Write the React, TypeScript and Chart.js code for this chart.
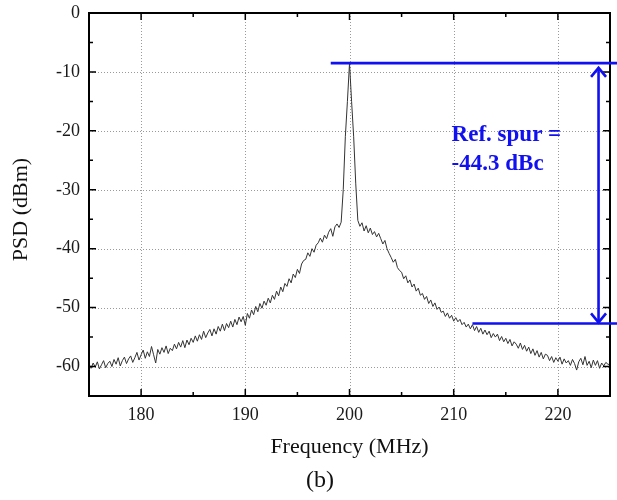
import React, { useEffect, useRef } from "react";
import { Chart, registerables } from "chart.js";

Chart.register(...registerables);

// ---- data ----
const F_START = 175; // MHz, first sample
const F_STEP = 0.2; // MHz between samples
// PSD (dBm), one value per 0.2 MHz from 175 to 225 MHz (rows of 2 MHz)
const PSD = [
  -59.6, -60.3, -59.4, -60.1, -59.2, -60.4, -59.7, -59.0, -60.2, -59.5,
  -59.1, -60.0, -58.8, -59.6, -58.5, -59.9, -59.0, -58.4, -59.5, -58.7,
  -58.2, -59.3, -58.5, -57.6, -58.9, -58.0, -57.2, -58.6, -57.5, -58.3,
  -56.6, -58.0, -59.4, -57.1, -57.9, -56.8, -57.6, -56.5, -57.8, -56.9,
  -57.3, -56.2, -57.0, -55.9, -56.7, -55.6, -56.8, -55.5, -56.3, -55.2,
  -55.9, -54.8, -55.7, -54.6, -55.4, -54.0, -55.1, -54.3, -53.7, -54.8,
  -53.6, -54.5, -53.2, -54.0, -52.8, -53.9, -52.7, -53.4, -52.3, -53.3,
  -52.0, -52.9, -51.6, -52.4, -51.5, -53.0, -51.0, -51.8, -50.4, -51.2,
  -49.8, -50.7, -49.3, -50.1, -48.9, -49.6, -48.4, -49.2, -47.9, -48.6,
  -47.2, -48.0, -46.5, -47.3, -45.9, -46.4, -45.1, -45.8, -44.3, -44.9,
  -43.5, -44.2, -42.6, -42.0, -41.8, -40.7, -41.3, -40.0, -40.6, -39.4,
  -39.0, -38.2, -38.9, -37.7, -38.3, -37.2, -36.6, -37.9, -36.3, -35.8,
  -36.4, -35.5, -30.0, -21.0, -15.0, -8.5, -15.0, -21.0, -29.0, -35.2,
  -36.2, -35.6, -37.0, -36.1, -37.3, -36.5, -37.6, -37.1, -38.0, -37.4,
  -38.3, -39.2, -38.6, -40.0, -40.8, -41.5, -42.3, -41.8, -43.2, -43.7,
  -44.0, -45.1, -44.6, -45.8, -45.3, -46.5, -46.0, -47.2, -46.7, -47.9,
  -47.6, -48.6, -48.1, -49.3, -48.7, -49.8, -49.2, -50.3, -49.9, -50.8,
  -50.6, -51.5, -50.9, -51.8, -51.3, -52.3, -51.7, -52.4, -52.0, -52.9,
  -52.5, -53.3, -52.8, -53.6, -52.9, -53.9, -53.2, -54.2, -53.5, -54.5,
  -53.8, -54.6, -54.0, -55.1, -54.4, -55.0, -54.5, -55.6, -54.9, -55.8,
  -55.2, -56.1, -55.4, -56.5, -55.8, -56.2, -56.9, -56.0, -57.1, -56.4,
  -57.4, -56.7, -57.8, -57.0, -58.1, -57.3, -58.4, -57.6, -58.7, -57.9,
  -58.1, -59.0, -58.3, -59.3, -58.5, -59.1, -58.4, -59.6, -58.7, -59.4,
  -59.0, -59.8, -58.8, -59.5, -60.6, -59.2, -58.6, -59.7, -58.3, -59.8,
  -59.1, -60.2, -58.9, -59.8, -59.0, -60.3, -59.4, -59.9, -59.3, -59.6,
  -59.7,
];

const X_MIN = 175;
const X_MAX = 225;
const Y_MIN = -65;
const Y_MAX = 0;
const X_TICKS = [180, 190, 200, 210, 220];
const X_MINOR = [185, 195, 205, 215];
const Y_TICKS = [0, -10, -20, -30, -40, -50, -60];
const Y_MINOR = [-5, -15, -25, -35, -45, -55];

const X_TITLE = "Frequency (MHz)";
const Y_TITLE = "PSD (dBm)";
const CAPTION = "(b)";

// annotation (data coordinates)
const PEAK_LEVEL = -8.5;
const SPUR_LEVEL = -52.7;
const PEAK_LINE_START = 198.2;
const SPUR_LINE_START = 211.8;
const ARROW_FREQ = 223.9;
const ARROW_TOP = -9.3;
const ARROW_BOTTOM = -52.5;
const NOTE_FREQ = 209.8;
const NOTE_LINES = ["Ref. spur =", "-44.3 dBc"];
const NOTE_LEVELS = [-21.8, -26.6];

const SERIF = '"Liberation Serif", "Times New Roman", Times, serif';
const BLUE = "#1010f0";

export default function App() {
  const ref = useRef<HTMLCanvasElement | null>(null);

  useEffect(() => {
    document.body.style.margin = "0";
    const canvas = ref.current;
    if (!canvas) return;

    const points = PSD.map((v, i) => ({ x: +(F_START + i * F_STEP).toFixed(2), y: v }));

    const decor = {
      id: "decor",
      beforeDatasetsDraw(chart: any) {
        const { ctx, chartArea: a, scales } = chart;
        const xs = scales.x;
        const ys = scales.y;
        ctx.save();
        ctx.strokeStyle = "#9a9a9a";
        ctx.lineWidth = 1;
        ctx.setLineDash([1, 2]);
        X_TICKS.forEach((v) => {
          const px = Math.round(xs.getPixelForValue(v)) + 0.5;
          ctx.beginPath();
          ctx.moveTo(px, a.top);
          ctx.lineTo(px, a.bottom);
          ctx.stroke();
        });
        Y_TICKS.forEach((v) => {
          if (v === Y_MAX) return;
          const py = Math.round(ys.getPixelForValue(v)) + 0.5;
          ctx.beginPath();
          ctx.moveTo(a.left, py);
          ctx.lineTo(a.right, py);
          ctx.stroke();
        });
        ctx.restore();
      },
      afterDatasetsDraw(chart: any) {
        const { ctx, chartArea: a, scales, width } = chart;
        const xs = scales.x;
        const ys = scales.y;
        ctx.save();
        // frame
        ctx.strokeStyle = "#000";
        ctx.lineWidth = 2;
        ctx.strokeRect(a.left, a.top, a.right - a.left, a.bottom - a.top);
        // inward ticks, all four sides
        ctx.lineWidth = 1.5;
        const xt = (v: number, len: number) => {
          const px = xs.getPixelForValue(v);
          ctx.beginPath();
          ctx.moveTo(px, a.bottom);
          ctx.lineTo(px, a.bottom - len);
          ctx.moveTo(px, a.top);
          ctx.lineTo(px, a.top + len);
          ctx.stroke();
        };
        const yt = (v: number, len: number) => {
          const py = ys.getPixelForValue(v);
          ctx.beginPath();
          ctx.moveTo(a.left, py);
          ctx.lineTo(a.left + len, py);
          ctx.moveTo(a.right, py);
          ctx.lineTo(a.right - len, py);
          ctx.stroke();
        };
        X_TICKS.forEach((v) => xt(v, 7));
        X_MINOR.forEach((v) => xt(v, 4));
        Y_TICKS.forEach((v) => yt(v, 7));
        Y_MINOR.forEach((v) => yt(v, 4));

        // blue annotation
        ctx.strokeStyle = BLUE;
        ctx.fillStyle = BLUE;
        ctx.lineWidth = 2.6;
        const yPeak = ys.getPixelForValue(PEAK_LEVEL);
        const ySpur = ys.getPixelForValue(SPUR_LEVEL);
        ctx.beginPath();
        ctx.moveTo(xs.getPixelForValue(PEAK_LINE_START), yPeak);
        ctx.lineTo(width, yPeak);
        ctx.moveTo(xs.getPixelForValue(SPUR_LINE_START), ySpur);
        ctx.lineTo(width, ySpur);
        ctx.stroke();
        const ax = xs.getPixelForValue(ARROW_FREQ);
        const aTop = ys.getPixelForValue(ARROW_TOP);
        const aBot = ys.getPixelForValue(ARROW_BOTTOM);
        ctx.beginPath();
        ctx.moveTo(ax, aTop);
        ctx.lineTo(ax, aBot);
        ctx.stroke();
        ctx.beginPath();
        ctx.moveTo(ax - 7.5, aTop + 9);
        ctx.lineTo(ax, aTop);
        ctx.lineTo(ax + 7.5, aTop + 9);
        ctx.moveTo(ax - 7.5, aBot - 9);
        ctx.lineTo(ax, aBot);
        ctx.lineTo(ax + 7.5, aBot - 9);
        ctx.stroke();
        ctx.font = `bold 23px ${SERIF}`;
        ctx.textAlign = "left";
        ctx.textBaseline = "alphabetic";
        NOTE_LINES.forEach((t, i) => {
          ctx.fillText(t, xs.getPixelForValue(NOTE_FREQ), ys.getPixelForValue(NOTE_LEVELS[i]));
        });

        // titles
        ctx.fillStyle = "#111";
        ctx.textAlign = "center";
        ctx.textBaseline = "middle";
        ctx.font = `22px ${SERIF}`;
        ctx.fillText(X_TITLE, (a.left + a.right) / 2, a.bottom + 51);
        ctx.font = `24px ${SERIF}`;
        ctx.fillText(CAPTION, 320, a.bottom + 85);
        ctx.font = `22px ${SERIF}`;
        ctx.translate(21, (a.top + a.bottom) / 2 + 5);
        ctx.rotate(-Math.PI / 2);
        ctx.fillText(Y_TITLE, 0, 0);
        ctx.restore();
      },
    };

    const noPad = (s: any) => {
      s.paddingTop = 0;
      s.paddingBottom = 0;
      s.paddingLeft = 0;
      s.paddingRight = 0;
    };

    const chart = new Chart(canvas, {
      type: "line",
      data: {
        datasets: [
          {
            data: points,
            borderColor: "#333333",
            borderWidth: 1,
            pointRadius: 0,
            tension: 0,
            fill: false,
          },
        ],
      },
      options: {
        responsive: false,
        animation: false,
        layout: { padding: { top: 13, right: 7, left: 0, bottom: 0 } },
        plugins: { legend: { display: false }, tooltip: { enabled: false } },
        scales: {
          x: {
            type: "linear",
            min: X_MIN,
            max: X_MAX,
            afterBuildTicks: (s: any) => {
              s.ticks = X_TICKS.map((v) => ({ value: v }));
            },
            afterFit: (s: any) => {
              s.height = 104;
              noPad(s);
            },
            grid: { display: false, drawTicks: false },
            border: { display: false },
            ticks: {
              padding: 8,
              color: "#1a1a1a",
              font: { family: SERIF, size: 18 },
              callback: (v: any) => String(v),
            },
          },
          y: {
            type: "linear",
            min: Y_MIN,
            max: Y_MAX,
            afterBuildTicks: (s: any) => {
              s.ticks = Y_TICKS.map((v) => ({ value: v }));
            },
            afterFit: (s: any) => {
              s.width = 89;
              noPad(s);
            },
            grid: { display: false, drawTicks: false },
            border: { display: false },
            ticks: {
              padding: 9,
              color: "#1a1a1a",
              font: { family: SERIF, size: 18 },
              callback: (v: any) => String(v),
            },
          },
        },
      },
      plugins: [decor],
    });

    return () => chart.destroy();
  }, []);

  return <canvas ref={ref} width={617} height={500} style={{ display: "block" }} />;
}
